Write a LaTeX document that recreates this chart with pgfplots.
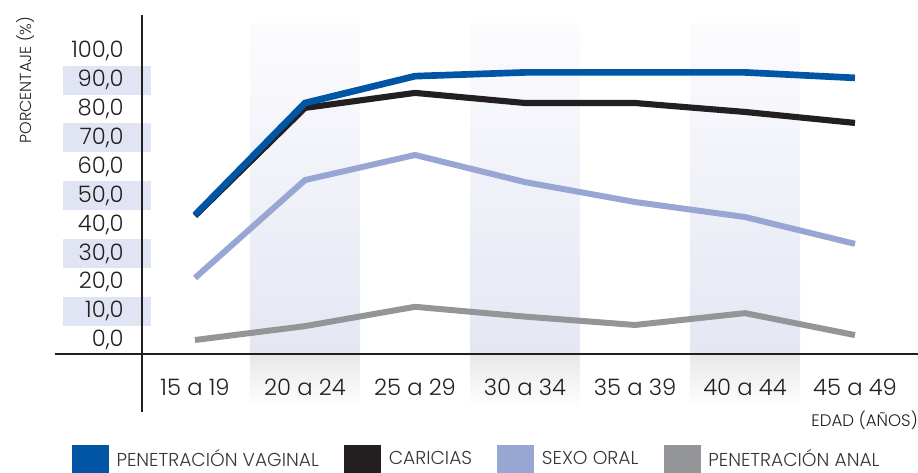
\documentclass[border=0pt]{standalone}
\usepackage{fontspec}
\setmainfont{Poppins}[UprightFont={* Light}]
\usepackage{pgfplots}
\pgfplotsset{compat=1.18}
\definecolor{vaginal}{RGB}{0,85,165}
\definecolor{caricias}{RGB}{35,31,32}
\definecolor{oral}{RGB}{152,166,212}
\definecolor{anal}{RGB}{147,149,152}
\definecolor{bandy}{RGB}{225,228,242}
\definecolor{bandc}{RGB}{228,231,243}
\definecolor{bandtop}{RGB}{252,252,254}
\definecolor{belowc}{RGB}{232,232,233}
\definecolor{txt}{RGB}{35,31,32}
\definecolor{legtxt}{RGB}{55,55,57}

\begin{document}
\begin{tikzpicture}
\begin{axis}[
    at={(146.25pt,-255pt)}, anchor=origin,
    x=82.5pt, y=2.165pt,
    xmin=-0.482, xmax=6.573,
    ymin=-4.85, ymax=112.6,
    clip=false,
    axis on top,
    axis line style={draw=none},
    major tick length=0pt,
    xtick={0,...,6},
    xticklabels={15 a 19, 20 a 24, 25 a 29, 30 a 34, 35 a 39, 40 a 44, 45 a 49},
    ytick={0,10,...,100},
    yticklabels={{0,0},{10,0},{20,0},{30,0},{40,0},{50,0},{60,0},{70,0},{80,0},{90,0},{100,0}},
    tick label style={font=\fontsize{17}{19}\selectfont, text=txt},
    yticklabel style={anchor=east, inner sep=0pt, xshift=-13.5pt},
    xticklabel style={anchor=center, inner sep=0pt, yshift=-24.75pt},
    ylabel={PORCENTAJE (\%)},
    ylabel style={at={(axis description cs:-0.1507,0.8076)}, anchor=center,
        font=\fontsize{12}{14}\selectfont, text=txt},
    xlabel={EDAD (AÑOS)},
    xlabel style={at={(axis description cs:1,-0.1946)}, anchor=east, inner sep=0pt,
        font=\fontsize{12.5}{14}\selectfont, text=txt},
    legend columns=4,
    legend style={draw=none, fill=none, inner sep=0pt, outer sep=0pt,
        at={(axis description cs:-0.0902,-0.2684)}, anchor=north west,
        font=\fontsize{14}{16}\selectfont, text=legtxt,
        /tikz/every even column/.append style={column sep=17pt}},
    legend cell align=left,
    legend image code/.code={\fill[#1] (0pt,-9.5pt) rectangle (27pt,10.5pt);
        \path (31pt,0pt);},
]
% fondos de las columnas pares
\shade[top color=bandtop, bottom color=bandc] (axis cs:0.5,-4.85) rectangle (axis cs:1.5,109.5);
\shade[top color=bandtop, bottom color=bandc] (axis cs:2.5,-4.85) rectangle (axis cs:3.5,109.5);
\shade[top color=bandtop, bottom color=bandc] (axis cs:4.5,-4.85) rectangle (axis cs:5.5,109.5);
\shade[top color=belowc, bottom color=white] (axis cs:0.5,-23.5) rectangle (axis cs:1.5,-4.85);
\shade[top color=belowc, bottom color=white] (axis cs:2.5,-23.5) rectangle (axis cs:3.5,-4.85);
\shade[top color=belowc, bottom color=white] (axis cs:4.5,-23.5) rectangle (axis cs:5.5,-4.85);
% fondos de las etiquetas del eje y
\fill[bandy] (axis cs:-1.2,5) rectangle (axis cs:-0.4,15);
\fill[bandy] (axis cs:-1.2,25) rectangle (axis cs:-0.4,35);
\fill[bandy] (axis cs:-1.2,45) rectangle (axis cs:-0.4,55);
\fill[bandy] (axis cs:-1.2,65) rectangle (axis cs:-0.4,75);
\fill[bandy] (axis cs:-1.2,85) rectangle (axis cs:-0.4,95);
% ejes
\draw[txt, line width=1pt] (axis cs:-0.482,-24.9) -- (axis cs:-0.482,112.6);
\draw[txt, line width=1pt] (axis cs:-1.273,-4.85) -- (axis cs:6.573,-4.85);

\addlegendimage{vaginal}
\addlegendimage{caricias}
\addlegendimage{oral}
\addlegendimage{anal}

\addplot[forget plot, anal, line width=4.5pt] coordinates {
    (0,0.0) (1,4.8) (2,11.5) (3,8.1) (4,5.2) (5,9.3) (6,1.7)};
\addplot[forget plot, oral, line width=4.5pt] coordinates {
    (0,21.5) (1,55.4) (2,64.1) (3,54.7) (4,47.8) (5,42.6) (6,33.3)};
\addplot[forget plot, caricias, line width=4.6pt] coordinates {
    (0,43.0) (1,80.4) (2,85.6) (3,82.1) (4,82.1) (5,79.0) (6,75.2)};
\addplot[forget plot, vaginal, line width=5pt] coordinates {
    (0,43.3) (1,82.1) (2,91.4) (3,92.7) (4,92.7) (5,92.7) (6,90.8)};
\legend{PENETRACIÓN VAGINAL, CARICIAS, SEXO ORAL, PENETRACIÓN ANAL}
\end{axis}
\pgfresetboundingbox
\path[use as bounding box] (0pt,0pt) rectangle (688.5pt,-354.75pt);
\end{tikzpicture}
\end{document}
